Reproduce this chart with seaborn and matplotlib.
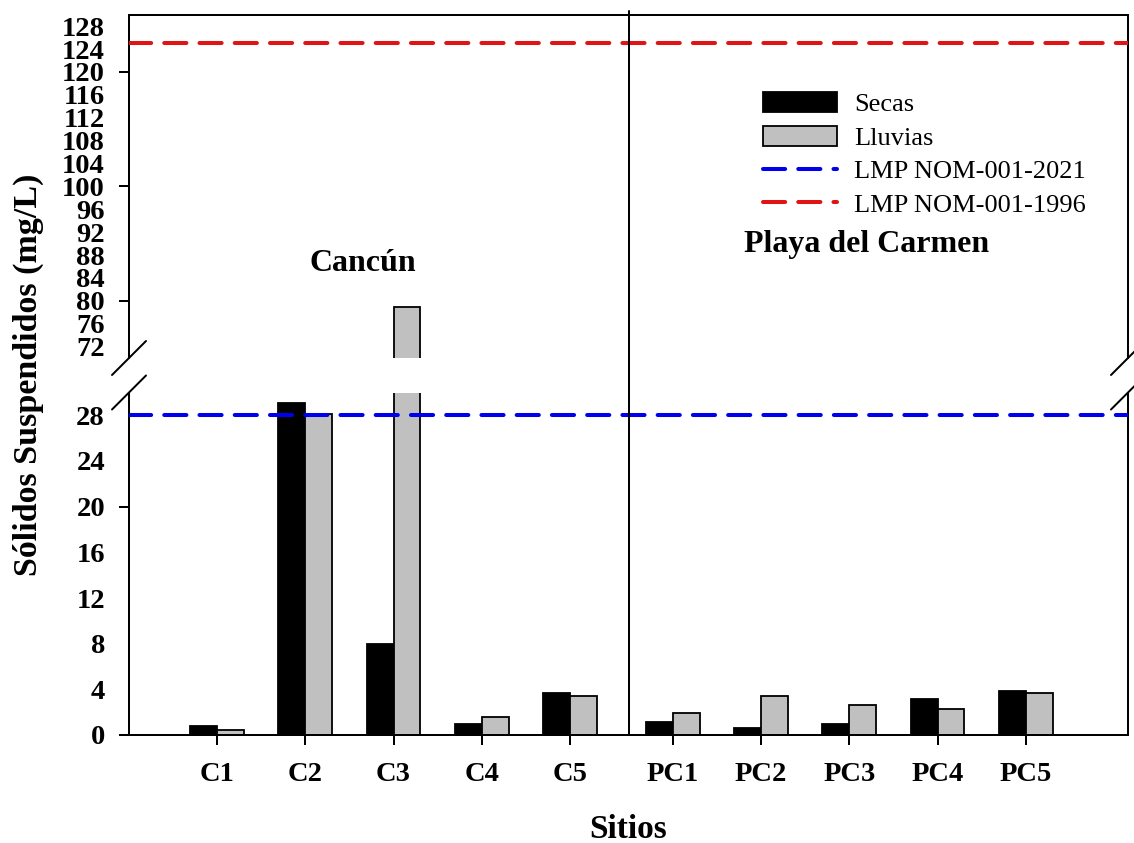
import matplotlib
matplotlib.use("Agg")
import matplotlib.pyplot as plt
from matplotlib.lines import Line2D
from matplotlib.patches import Patch
import pandas as pd
import seaborn as sns

# ---- data -------------------------------------------------------------
sites = ["C1", "C2", "C3", "C4", "C5", "PC1", "PC2", "PC3", "PC4", "PC5"]
secas = [0.8, 29.1, 8.0, 0.96, 3.7, 1.17, 0.58, 0.96, 3.15, 3.88]
lluvias = [0.4, 28.1, 79.0, 1.55, 3.45, 1.9, 3.45, 2.65, 2.28, 3.65]
lmp_2021 = 28
lmp_1996 = 125
yticks_low = list(range(0, 29, 4))
yticks_high = list(range(72, 129, 4))
seasons = ["Secas", "Lluvias"]
limit_labels = ["LMP NOM-001-2021", "LMP NOM-001-1996"]

# ---- style ------------------------------------------------------------
sns.set_style("white")
plt.rcParams["font.family"] = ["Liberation Serif", "DejaVu Serif"]
plt.rcParams.update({
    "text.color": "black",
    "axes.labelcolor": "black",
    "xtick.color": "black",
    "ytick.color": "black",
    "axes.edgecolor": "black",
})

BLACK = "black"
GRAY = "#C0C0C0"
BLUE = "#0000EE"
RED = "#E01414"
LW = 1.44
DASHES = (5.5, 3.25)

# Cancún sites at 1..5, Playa del Carmen group shifted slightly to the right
pos = [1, 2, 3, 4, 5] + [6.17 + i for i in range(5)]
XMAX = 11.33
XDIV = 5.67

df = pd.DataFrame({
    "x": pos * 2,
    "temporada": [seasons[0]] * len(sites) + [seasons[1]] * len(sites),
    "valor": secas + lluvias,
})

W, H = 1134, 843
fig = plt.figure(figsize=(W / 100, H / 100), dpi=100)


def fx(px):
    return px / W


def fy(py):
    return 1 - py / H


L, R = 129, 1128
ax_top = fig.add_axes([fx(L), fy(358), fx(R) - fx(L), fy(14.75) - fy(358)])
ax_bot = fig.add_axes([fx(L), fy(735), fx(R) - fx(L), fy(392.5) - fy(735)])

for ax in (ax_top, ax_bot):
    sns.barplot(data=df, x="x", y="valor", hue="temporada", hue_order=seasons,
                palette={seasons[0]: BLACK, seasons[1]: GRAY}, saturation=1,
                native_scale=True, width=0.61, edgecolor="black", linewidth=1.3,
                errorbar=None, legend=False, ax=ax, zorder=2)
    ax.set_xlim(0, XMAX)
    ax.set_xlabel("")
    ax.set_ylabel("")
    for s in ax.spines.values():
        s.set_linewidth(LW)
        s.set_color("black")
    ax.yaxis.remove_overlapping_locs = False

ax_top.set_ylim(70, 130)
ax_bot.set_ylim(0, 30)
ax_top.spines["bottom"].set_visible(False)
ax_bot.spines["top"].set_visible(False)

# limit lines
ax_bot.axhline(lmp_2021, color=BLUE, lw=2.9, dashes=DASHES,
               dash_capstyle="round", zorder=3)
ax_top.axhline(lmp_1996, color=RED, lw=2.9, dashes=DASHES,
               dash_capstyle="round", zorder=3)

# y ticks: labels every 4, tick marks every 20
tick_font = dict(fontsize=20.5, fontweight="bold", color="black")
ax_bot.set_yticks(yticks_low)
ax_bot.set_yticklabels([str(v) for v in yticks_low], **tick_font)
ax_bot.set_yticks([0, 20], minor=True)
ax_top.set_yticks(yticks_high)
ax_top.set_yticklabels([str(v) for v in yticks_high], **tick_font)
ax_top.set_yticks([80, 100, 120], minor=True)
for ax in (ax_top, ax_bot):
    ax.tick_params(axis="y", which="major", left=True, length=0, pad=17.3)
    ax.tick_params(axis="y", which="minor", left=True, length=7.2, width=LW,
                   direction="out", color="black")

# x ticks on the lower panel only
ax_bot.set_xticks(pos)
ax_bot.set_xticklabels(sites, **tick_font)
ax_bot.tick_params(axis="x", which="major", bottom=True, length=7.2, width=LW,
                   direction="out", pad=12, color="black")
ax_top.tick_params(axis="x", which="both", bottom=False, labelbottom=False)

# group divider spanning both panels
xf = fx(L) + XDIV / XMAX * (fx(R) - fx(L))
fig.add_artist(Line2D([xf, xf], [fy(735), fy(11)], color="black", lw=LW))

# axis break marks
for cx in (L, R):
    for cy in (358, 392.5):
        fig.add_artist(Line2D([fx(cx - 17), fx(cx + 17)],
                              [fy(cy + 17), fy(cy - 17)],
                              color="black", lw=LW))

# region labels
ax_top.text(2.65, 86.5, "Cancún", ha="center", va="center",
            fontsize=23, fontweight="bold", color="black")
ax_top.text(8.37, 89.8, "Playa del Carmen", ha="center", va="center",
            fontsize=23, fontweight="bold", color="black")

# axis titles
fig.text(fx(28), fy(375), "Sólidos Suspendidos (mg/L)", rotation=90,
         ha="center", va="center", fontsize=24.5, fontweight="bold",
         color="black")
fig.text(fx(628), fy(838), "Sitios", ha="center", va="baseline",
         fontsize=24, fontweight="bold", color="black")

# legend
handles = [
    Patch(facecolor=BLACK, edgecolor="black", linewidth=1.3),
    Patch(facecolor=GRAY, edgecolor="black", linewidth=1.3),
    Line2D([], [], color=BLUE, lw=2.9, dashes=DASHES, dash_capstyle="round"),
    Line2D([], [], color=RED, lw=2.9, dashes=DASHES, dash_capstyle="round"),
]
leg = fig.legend(handles, seasons + limit_labels, loc="upper left",
                 bbox_to_anchor=(fx(763), fy(92)), frameon=False, fontsize=19,
                 handlelength=2.8, handleheight=0.8, handletextpad=0.65,
                 labelspacing=0.35, borderpad=0, borderaxespad=0)
for t in leg.get_texts():
    t.set_color("black")

fig.savefig("out.png", dpi=100)
